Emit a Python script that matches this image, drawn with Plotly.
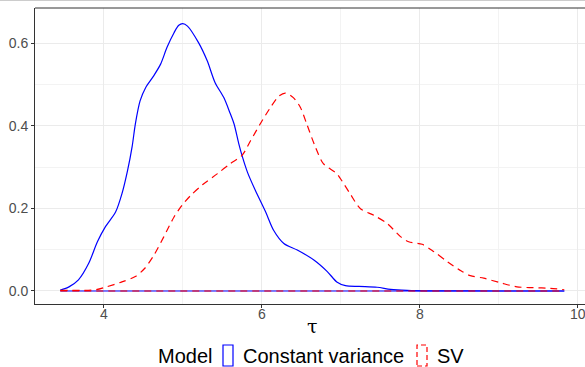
import plotly.graph_objects as go

# Kernel density estimates of tau under the two volatility models
tau_cv = [3.45, 3.56, 3.68, 3.81, 3.92, 4.02, 4.15, 4.23, 4.30, 4.36, 4.40, 4.46,
          4.53, 4.63, 4.72, 4.80, 4.89, 4.95, 5.00, 5.06, 5.20, 5.31, 5.41, 5.52,
          5.60, 5.65, 5.71, 5.75, 5.82, 5.92, 6.05, 6.15, 6.28, 6.45, 6.66, 6.83,
          6.95, 7.06, 7.23, 7.46, 7.63, 7.84, 8.20, 9.00, 9.83]
dens_cv = [0.002, 0.010, 0.027, 0.067, 0.119, 0.155, 0.191, 0.235, 0.290, 0.350,
           0.404, 0.460, 0.492, 0.520, 0.549, 0.589, 0.625, 0.643, 0.647, 0.641,
           0.601, 0.557, 0.504, 0.468, 0.430, 0.404, 0.356, 0.328, 0.287, 0.243,
           0.191, 0.147, 0.115, 0.099, 0.075, 0.047, 0.022, 0.013, 0.011, 0.009,
           0.004, 0.0015, 0.0003, 0.0, 0.0]

tau_sv = [3.45, 3.90, 4.02, 4.23, 4.40, 4.52, 4.63, 4.76, 4.89, 4.99, 5.10, 5.25,
          5.44, 5.60, 5.75, 5.86, 5.98, 6.11, 6.22, 6.30, 6.40, 6.49, 6.57, 6.68,
          6.78, 6.95, 7.02, 7.12, 7.25, 7.42, 7.59, 7.76, 7.86, 8.03, 8.18, 8.35,
          8.52, 8.64, 8.81, 9.02, 9.23, 9.44, 9.65, 9.83]
dens_sv = [0.0015, 0.003, 0.009, 0.022, 0.035, 0.055, 0.085, 0.131, 0.179, 0.207,
           0.231, 0.257, 0.284, 0.308, 0.328, 0.364, 0.404, 0.444, 0.472, 0.479,
           0.468, 0.444, 0.404, 0.348, 0.308, 0.284, 0.265, 0.235, 0.199, 0.183,
           0.163, 0.131, 0.119, 0.113, 0.095, 0.071, 0.049, 0.037, 0.031, 0.020,
           0.010, 0.008, 0.0065, 0.003]

model_labels = ["Constant variance", "SV"]
legend_title = "Model"
x_title = "τ"
x_ticks = [4, 6, 8, 10]
y_ticks = [0.0, 0.2, 0.4, 0.6]
y_tick_text = ["0.0", "0.2", "0.4", "0.6"]

W, H = 585, 367
ML, MR, MT, MB = 35, 0, 8, 63
PW, PH = W - ML - MR, H - MT - MB


def px_x(p):
    return (p - ML) / PW


def px_y(p):
    return (H - MB - p) / PH


BLUE = "#0000FF"
RED = "#FF0000"
DASH = "7px,5px"

fig = go.Figure()

series = [
    (tau_cv, dens_cv, BLUE, "solid"),
    (tau_sv, dens_sv, RED, DASH),
]
for xs, ys, col, dash in series:
    # upper density curve
    fig.add_trace(go.Scatter(
        x=xs, y=ys, mode="lines",
        line=dict(color=col, width=1.2, dash=dash, shape="spline", smoothing=0.8),
        showlegend=False, hoverinfo="skip"))
    # closing baseline of the density outline
    fig.add_trace(go.Scatter(
        x=[xs[0], xs[-1]], y=[0, 0], mode="lines",
        line=dict(color=col, width=1.2, dash=dash),
        showlegend=False, hoverinfo="skip"))

GRID = "#EBEBEB"
TICKFONT = dict(family="Liberation Sans, Arial, sans-serif", size=14, color="#4D4D4D")

fig.update_xaxes(
    range=[3.13, 3.13 + PW / 79.0],
    tickmode="array", tickvals=x_ticks, showticklabels=False,
    ticks="outside", ticklen=3, tickwidth=1, tickcolor="#333333",
    showgrid=True, gridcolor=GRID, gridwidth=1.1,
    minor=dict(tickmode="array", tickvals=[3, 5, 7, 9], showgrid=True,
               gridcolor="#F3F3F3", gridwidth=0.6, ticks=""),
    showline=True, linecolor="#333333", linewidth=1, mirror=False,
    zeroline=False,
)
fig.update_yaxes(
    range=[-0.0315, 0.6848],
    tickmode="array", tickvals=y_ticks, ticktext=y_tick_text,
    ticks="outside", ticklen=3, tickwidth=1, tickcolor="#333333",
    tickfont=TICKFONT,
    showgrid=True, gridcolor=GRID, gridwidth=1.1,
    minor=dict(tickmode="array", tickvals=[0.1, 0.3, 0.5], showgrid=True,
               gridcolor="#F3F3F3", gridwidth=0.6, ticks=""),
    showline=True, linecolor="#333333", linewidth=1, mirror=False,
    zeroline=False,
)

shapes = [
    # top edge of the panel border
    dict(type="line", xref="paper", yref="paper", x0=0, x1=1, y0=1, y1=1,
         line=dict(color="#333333", width=1)),
    # thin rule along the top of the page
    dict(type="line", xref="paper", yref="paper", x0=px_x(0), x1=px_x(W),
         y0=px_y(0.5), y1=px_y(0.5), line=dict(color="#CCCCCC", width=1)),
    # legend keys
    dict(type="rect", xref="paper", yref="paper",
         x0=px_x(223), x1=px_x(233), y0=px_y(366), y1=px_y(345),
         line=dict(color=BLUE, width=1.2)),
    dict(type="rect", xref="paper", yref="paper",
         x0=px_x(417), x1=px_x(427), y0=px_y(366), y1=px_y(345),
         line=dict(color=RED, width=1.2, dash="5px,3px")),
]

LEGFONT = dict(family="Liberation Sans, Arial, sans-serif", size=20, color="#000000")
annotations = [
    dict(text=legend_title, x=px_x(156), y=px_y(355.5), xref="paper", yref="paper",
         xanchor="left", yanchor="middle", showarrow=False, font=LEGFONT),
    dict(text=model_labels[0], x=px_x(241), y=px_y(355.5), xref="paper", yref="paper",
         xanchor="left", yanchor="middle", showarrow=False, font=LEGFONT),
    dict(text=model_labels[1], x=px_x(435), y=px_y(355.5), xref="paper", yref="paper",
         xanchor="left", yanchor="middle", showarrow=False, font=LEGFONT),
    dict(text=x_title, x=px_x(312.7), y=px_y(326), xref="paper", yref="paper",
         xanchor="center", yanchor="middle", showarrow=False,
         font=dict(family="DejaVu Serif, Liberation Serif, serif", size=19, color="#000000")),
]
# x tick labels, placed on the data scale so the last one runs off the page edge
for v in x_ticks:
    annotations.append(dict(
        text=str(v), x=v, y=px_y(313.5), xref="x", yref="paper",
        xanchor="center", yanchor="middle", showarrow=False, font=TICKFONT))

fig.update_layout(
    width=W, height=H,
    margin=dict(l=ML, r=MR, t=MT, b=MB, pad=0),
    plot_bgcolor="#FFFFFF", paper_bgcolor="#FFFFFF",
    shapes=shapes, annotations=annotations,
    showlegend=False,
)

fig.write_html("out.html")
